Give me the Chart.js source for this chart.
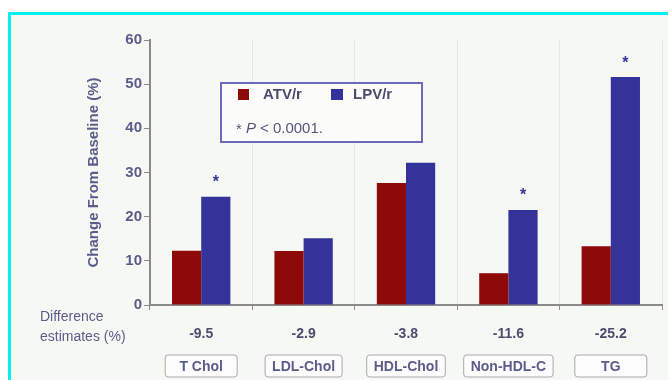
<!DOCTYPE html>
<html>
<head>
<meta charset="utf-8">
<script src="https://cdn.jsdelivr.net/npm/chart.js@4"></script>
<style>
  body { margin: 0; background: #fff; }
  #wrap { width: 668px; height: 380px; }
</style>
</head>
<body>
<div id="wrap"><canvas id="chart" width="668" height="380"></canvas></div>
<script>
const categories = ['T Chol', 'LDL-Chol', 'HDL-Chol', 'Non-HDL-C', 'TG'];
const atvValues = [12.3, 12.2, 27.6, 7.2, 13.3];
const lpvValues = [24.5, 15.1, 32.2, 21.5, 51.6];
const diffEstimates = ['-9.5', '-2.9', '-3.8', '-11.6', '-25.2'];
const significant = [true, false, false, true, true];
const yTicks = [0, 10, 20, 30, 40, 50, 60];

const RED = '#8e0a0a';
const BLUE = '#333399';
const TEXT = '#5c5c8c';
const FONT = '"Liberation Sans", Arial, sans-serif';

// background + cyan frame
const frame = {
  id: 'frame',
  beforeDraw(chart) {
    const c = chart.ctx;
    c.save();
    c.fillStyle = '#f5f8f3';
    c.fillRect(11, 15, chart.width - 11, chart.height - 15);
    c.fillStyle = '#00f0f0';
    c.fillRect(8, 12, chart.width - 8, 3);
    c.fillRect(8, 12, 3, chart.height - 12);
    c.restore();
  }
};

// legend box, asterisks, axis title, difference row and category boxes
const extras = {
  id: 'extras',
  afterDraw(chart) {
    const c = chart.ctx;
    const x = chart.scales.x;
    const area = chart.chartArea;
    c.save();

    // y axis title
    c.save();
    c.translate(94, (area.top + area.bottom) / 2);
    c.rotate(-Math.PI / 2);
    c.fillStyle = TEXT;
    c.font = 'bold 15px ' + FONT;
    c.textAlign = 'center';
    c.textBaseline = 'middle';
    c.fillText('Change From Baseline (%)', 0, 0);
    c.restore();

    // legend box
    c.fillStyle = '#fbfcfa';
    c.fillRect(221, 83, 201, 59);
    c.strokeStyle = '#6a6ab8';
    c.lineWidth = 2;
    c.strokeRect(221, 83, 201, 59);
    c.fillStyle = RED;
    c.fillRect(238, 89, 11, 11);
    c.fillStyle = BLUE;
    c.fillRect(331, 89, 12, 11);
    c.fillStyle = '#4a4a6e';
    c.font = 'bold 15px ' + FONT;
    c.textBaseline = 'middle';
    c.textAlign = 'left';
    c.fillText('ATV/r', 263, 95);
    c.fillText('LPV/r', 353, 95);
    c.font = '15px ' + FONT;
    c.fillStyle = '#55557a';
    c.fillText('*', 236, 130);
    c.font = 'italic 15px ' + FONT;
    c.fillText('P', 246, 129);
    c.font = '15px ' + FONT;
    c.fillText('< 0.0001.', 260, 129);

    // asterisks above LPV bars
    const meta = chart.getDatasetMeta(1);
    c.fillStyle = BLUE;
    c.font = 'bold 16px ' + FONT;
    c.textAlign = 'center';
    meta.data.forEach((bar, i) => {
      if (significant[i]) c.fillText('*', bar.x, bar.y - 14);
    });

    // difference estimates row
    c.fillStyle = TEXT;
    c.font = '14px ' + FONT;
    c.textAlign = 'left';
    c.fillText('Difference', 40, 317);
    c.fillText('estimates (%)', 40, 337);
    c.textAlign = 'center';
    c.font = 'bold 14px ' + FONT;
    categories.forEach((cat, i) => {
      const cx = x.getPixelForValue(i);
      c.fillStyle = '#4c4c70';
      c.fillText(diffEstimates[i], cx, 334);
      const w = Math.max(c.measureText(cat).width + 14, 72);
      c.beginPath();
      c.roundRect(cx - w / 2, 355, w, 22, 3);
      c.fillStyle = '#fbfcfb';
      c.fill();
      c.strokeStyle = '#a8a8b0';
      c.lineWidth = 1;
      c.stroke();
      c.fillStyle = TEXT;
      c.fillText(cat, cx, 367);
    });
    c.restore();
  }
};

new Chart(document.getElementById('chart'), {
  type: 'bar',
  data: {
    labels: categories,
    datasets: [
      { label: 'ATV/r', data: atvValues, backgroundColor: RED },
      { label: 'LPV/r', data: lpvValues, backgroundColor: BLUE }
    ]
  },
  options: {
    responsive: false,
    animation: false,
    events: [],
    layout: { padding: { left: 10, right: 6, top: 40, bottom: 0 } },
    plugins: { legend: { display: false }, tooltip: { enabled: false } },
    datasets: { bar: { categoryPercentage: 0.57, barPercentage: 1.0 } },
    scales: {
      x: {
        grid: {
          offset: true,
          color: '#e2e6e6',
          tickColor: '#8a8a8a',
          tickLength: 5
        },
        border: { color: '#8a8a8a', width: 2 },
        ticks: { display: false },
        afterFit(s) { s.height = 75; }
      },
      y: {
        min: 0,
        max: 60,
        afterBuildTicks(s) { s.ticks = yTicks.map(v => ({ value: v })); },
        grid: { drawOnChartArea: false, tickColor: '#8a8a8a', tickLength: 6 },
        border: { color: '#8a8a8a', width: 2 },
        ticks: {
          color: TEXT,
          padding: 2,
          font: { family: FONT, size: 15, weight: 'bold' }
        },
        afterFit(s) { s.width = 140; }
      }
    }
  },
  plugins: [frame, extras]
});
</script>
</body>
</html>
